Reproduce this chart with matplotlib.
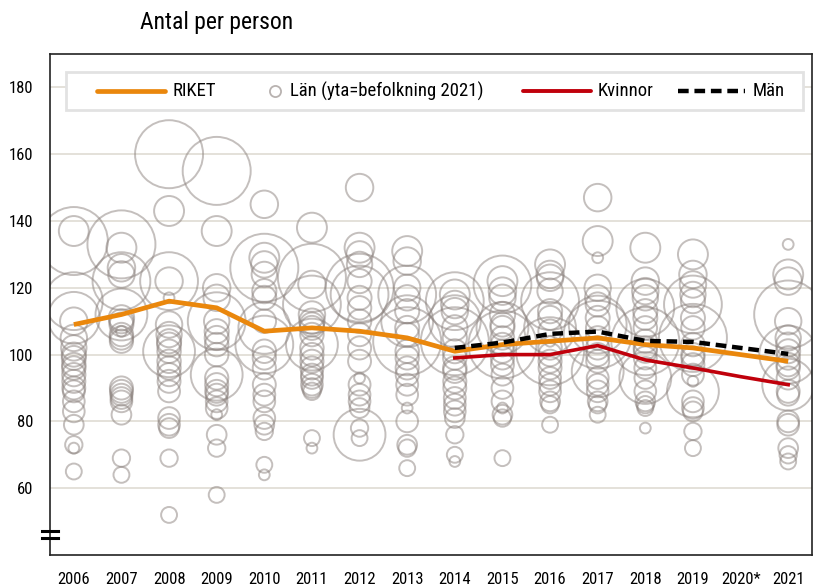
import numpy as np
import matplotlib
matplotlib.use("Agg")
import matplotlib.pyplot as plt
from matplotlib.lines import Line2D
from matplotlib.patches import Rectangle
from matplotlib import font_manager as fm

# ---------------- data ----------------
years = [2006, 2007, 2008, 2009, 2010, 2011, 2012, 2013, 2014, 2015,
         2016, 2017, 2018, 2019, 2020, 2021]
year_labels = ["2006", "2007", "2008", "2009", "2010", "2011", "2012", "2013",
               "2014", "2015", "2016", "2017", "2018", "2019", "2020*", "2021"]

riket = [109, 112, 116, 114, 107, 108, 107, 105, 101, 103, 104, 105, 103, 102, 100, 98]
kvinnor_years = [2014, 2015, 2016, 2017, 2018, 2019, 2020, 2021]
kvinnor = [99, 100, 100, 102.7, 98.4, 96, 93.4, 91]
man_years = [2014, 2015, 2016, 2017, 2018, 2019, 2020, 2021]
man = [102, 103.6, 106.2, 106.9, 104.1, 103.8, 102, 100.2]

# county populations 2021 (thousands) -> bubble area
lan_names = ["Stockholm", "Västra Götaland", "Skåne", "Östergötland", "Uppsala",
             "Jönköping", "Halland", "Örebro", "Södermanland", "Dalarna",
             "Gävleborg", "Värmland", "Västmanland", "Västerbotten", "Norrbotten",
             "Kalmar", "Västernorrland", "Kronoberg", "Blekinge", "Jämtland", "Gotland"]
lan_pop = [2415, 1744, 1402, 468, 395, 366, 337, 305, 301, 288,
           288, 283, 279, 275, 250, 246, 245, 203, 157, 132, 61]

lan_2006 = [134, 116, 111, 137, 110, 105, 102, 100, 99, 97, 96, 94, 92, 90, 89, 86, 83, 79, 73, 65, 72]
lan_2007 = [133, 122, 112, 132, 126, 124, 111, 110, 109, 106, 105, 104, 90, 89, 88, 87, 86, 82, 69, 64, 107]
lan_2008 = [160, 122, 101, 143, 122, 109, 106, 104, 103, 101, 98, 96, 94, 92, 89, 81, 79, 78, 69, 52, 117]
lan_2009 = [155, 110, 94, 137, 120, 117, 110, 107, 105, 103, 100, 93, 91, 89, 88, 86, 84, 76, 72, 58, 82]
lan_2010 = [126, 103, 108, 129, 145, 127, 124, 119, 117, 110, 101, 99, 96, 91, 88, 86, 81, 79, 77, 67, 64]
lan_2011 = [123, 115, 103, 138, 121, 112, 110, 109, 108, 106, 102, 100, 98, 96, 94, 93, 91, 90, 89, 75, 72]
lan_2012 = [120, 118, 76, 132, 150, 130, 127, 122, 117, 114, 110, 106, 102, 98, 91, 88, 86, 84, 78, 75, 93]
lan_2013 = [104, 118, 110, 131, 128, 120, 117, 113, 108, 106, 101, 99, 96, 94, 91, 88, 80, 73, 72, 66, 84]
lan_2014 = [104, 116, 110, 118, 115, 113, 108, 105, 101, 99, 96, 95, 92, 90, 87, 85, 83, 81, 76, 70, 68]
lan_2015 = [103, 121, 108, 122, 119, 117, 112, 109, 108, 105, 103, 101, 99, 97, 94, 90, 86, 82, 81, 69, 84]
lan_2016 = [101, 116, 108, 127, 124, 123, 119, 113, 111, 107, 102, 100, 98, 96, 93, 91, 89, 86, 85, 79, 104]
lan_2017 = [106, 109, 95, 134, 147, 120, 117, 115, 111, 108, 105, 102, 100, 98, 93, 91, 89, 86, 85, 82, 129]
lan_2018 = [104, 114, 93, 132, 122, 119, 117, 113, 111, 108, 104, 102, 101, 99, 96, 93, 89, 86, 85, 84, 78]
lan_2019 = [105, 115, 89, 130, 124, 121, 118, 116, 111, 108, 103, 100, 99, 97, 94, 86, 84, 83, 77, 72, 92]
lan_2020 = [np.nan] * 21
lan_2021 = [112, 100, 91, 124, 122, 110, 105, 103, 101, 99, 97, 96, 93, 89, 88, 80, 79, 72, 70, 68, 133]

lan_values = [lan_2006, lan_2007, lan_2008, lan_2009, lan_2010, lan_2011, lan_2012,
              lan_2013, lan_2014, lan_2015, lan_2016, lan_2017, lan_2018, lan_2019,
              lan_2020, lan_2021]

y_ticks = [60, 80, 100, 120, 140, 160, 180]
title = "Antal per person"
legend_labels = ["RIKET", "Län (yta=befolkning 2021)", "Kvinnor", "Män"]

# ---------------- fonts ----------------
avail = {f.name for f in fm.fontManager.ttflist}
fam = None
for cand in ["Liberation Sans Narrow", "Roboto Condensed", "Open Sans Condensed", "DejaVu Sans"]:
    if cand in avail:
        fam = cand
        break
plt.rcParams["font.family"] = [fam, "DejaVu Sans"]
if fam == "DejaVu Sans":
    plt.rcParams["font.stretch"] = "condensed"

W, H, DPI = 813, 587, 100
fig = plt.figure(figsize=(W / DPI, H / DPI), dpi=DPI)
ax = fig.add_axes([50 / W, 32 / H, 762 / W, 501 / H])

orange = "#EA870C"
red = "#C0000B"
circ_col = "#8a807c"

# bubbles
max_r_px = 34.0
for yr, vals in zip(years, lan_values):
    v = np.array(vals, dtype=float)
    if np.all(np.isnan(v)):
        continue
    pop = np.array(lan_pop, dtype=float)
    r_px = max_r_px * np.sqrt(pop / pop.max())
    s = (2 * r_px * 72 / DPI) ** 2
    ax.scatter(np.full(len(v), yr), v, s=s, facecolors="none",
               edgecolors=circ_col, linewidths=1.4, alpha=0.5, zorder=2)

ax.plot(years, riket, color=orange, lw=3.4, solid_capstyle="butt",
        solid_joinstyle="round", zorder=4)
ax.plot(kvinnor_years, kvinnor, color=red, lw=2.6, solid_joinstyle="round", zorder=5)
ax.plot(man_years, man, color="black", lw=3.2, dashes=(2.4, 1.3), zorder=6)

ax.set_xlim(2005.5, 2021.5)
ax.set_ylim(40, 190)
ax.set_yticks(y_ticks)
ax.set_xticks(years)
ax.set_xticklabels(year_labels)
ax.tick_params(axis="both", length=0, labelsize=12, colors="black")
ax.tick_params(axis="y", pad=12)
ax.tick_params(axis="x", pad=12)
ax.grid(axis="y", color="#dcd8d0", lw=1.1, zorder=0)
ax.set_axisbelow(True)
for sp in ["left", "bottom", "top", "right"]:
    ax.spines[sp].set_color("#222222")
    ax.spines[sp].set_linewidth(1.2)

# axis break marks
for yy in (531, 538):
    yfrac = (H - yy - 32) / 501
    ax.plot([-0.010, 0.010], [yfrac, yfrac], transform=ax.transAxes,
            color="black", lw=2.2, clip_on=False, zorder=7)

# title
fig.text(140 / W, 1 - 22 / H, title, fontsize=17, va="center", ha="left")

# ---------------- legend (placed in pixel positions) ----------------
def fx(px):
    return px / W

def fy(py):
    return 1 - py / H

box = Rectangle((fx(66), fy(110)), fx(803) - fx(66), fy(72) - fy(110),
                transform=fig.transFigure, facecolor="white", edgecolor="#e2e2e2",
                lw=2.0, zorder=20)
fig.add_artist(box)
ly = fy(91)
leg_font = 13.5
fig.add_artist(Line2D([fx(97), fx(165)], [ly, ly], transform=fig.transFigure,
                      color=orange, lw=3.4, solid_capstyle="round", zorder=21))
fig.text(fx(172), ly, legend_labels[0], fontsize=leg_font, va="center", ha="left", zorder=22)
fig.add_artist(Line2D([fx(275)], [ly], transform=fig.transFigure, ls="none",
                      marker="o", markersize=8, markerfacecolor="none",
                      markeredgecolor=circ_col, markeredgewidth=1.3, alpha=0.6, zorder=21))
fig.text(fx(290), ly, legend_labels[1], fontsize=leg_font, va="center", ha="left", zorder=22)
fig.add_artist(Line2D([fx(523), fx(591)], [ly, ly], transform=fig.transFigure,
                      color=red, lw=2.8, solid_capstyle="round", zorder=21))
fig.text(fx(598), ly, legend_labels[2], fontsize=leg_font, va="center", ha="left", zorder=22)
fig.add_artist(Line2D([fx(678), fx(745)], [ly, ly], transform=fig.transFigure,
                      color="black", lw=3.2, dashes=(2.4, 1.3), zorder=21))
fig.text(fx(753), ly, legend_labels[3], fontsize=leg_font, va="center", ha="left", zorder=22)

fig.savefig("out.png", dpi=DPI)
